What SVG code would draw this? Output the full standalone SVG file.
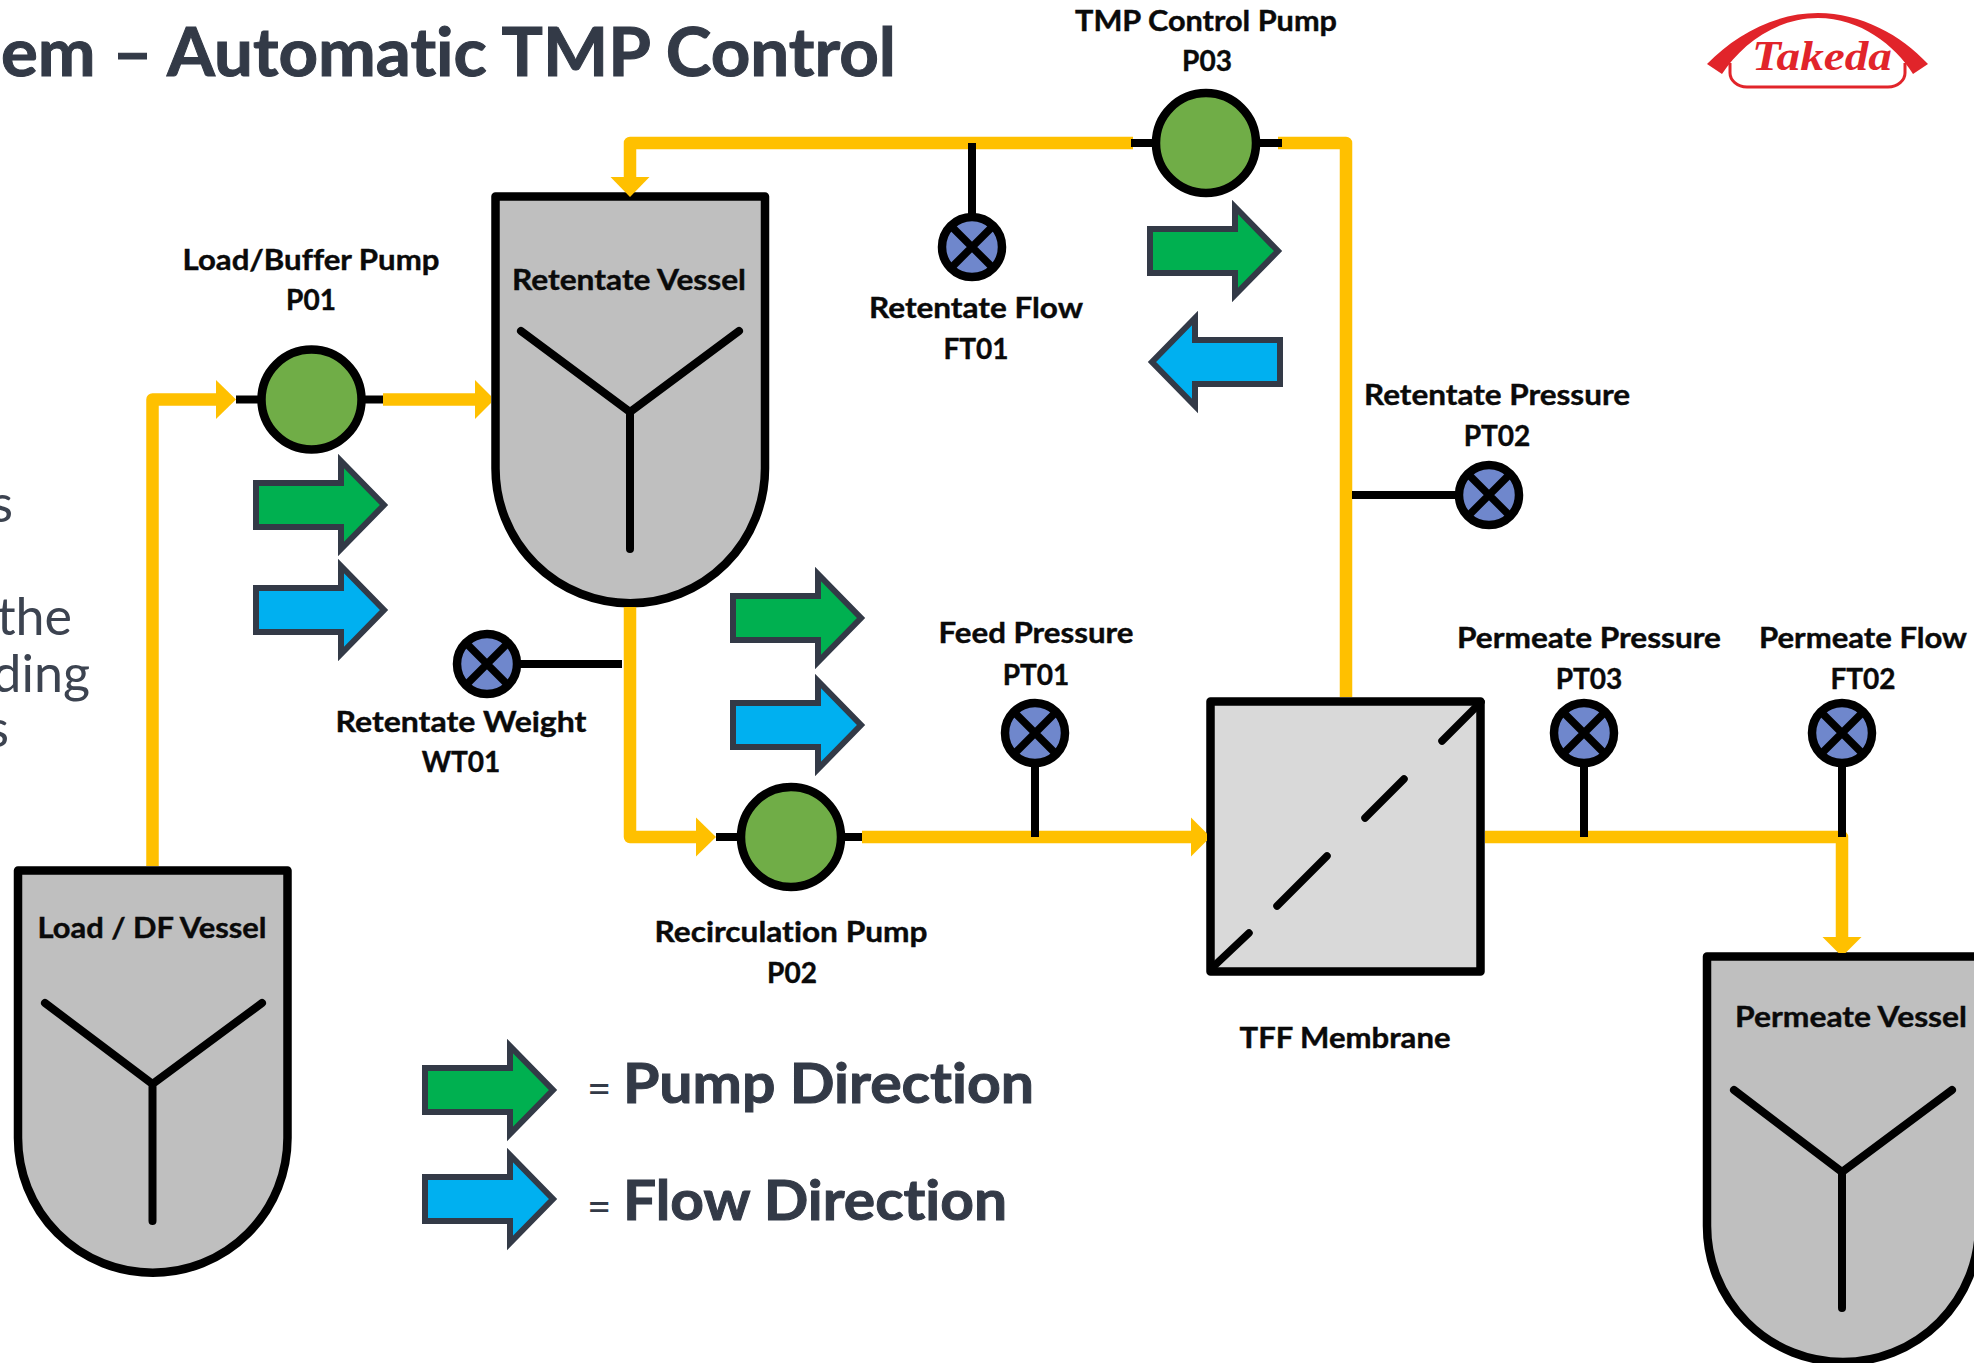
<svg xmlns="http://www.w3.org/2000/svg" width="1974" height="1363" viewBox="0 0 1974 1363">
<style>
text{font-family:"Lato","Liberation Sans",sans-serif;font-feature-settings:"liga" 0}
.l{font-size:28px;font-weight:700;fill:#0a0a0a;stroke:#0a0a0a;stroke-width:.4;text-anchor:middle}
.t{font-size:66px;font-weight:700;fill:#333a47;stroke:#333a47;stroke-width:1}
.b{font-size:52px;fill:#3c4350;font-weight:400;text-anchor:end}
.o{fill:none;stroke:#ffc000;stroke-width:12.5;stroke-linejoin:round}
.k{fill:none;stroke:#000;stroke-width:8}
.v{fill:#bfbfbf;stroke:#000;stroke-width:8.5;stroke-linejoin:round}
.y{fill:none;stroke:#000;stroke-width:8;stroke-linecap:round;stroke-linejoin:round}
.p{fill:#70ad47;stroke:#000;stroke-width:8.5}
.s{fill:#6f87cc;stroke:#000;stroke-width:8.5}
.x{stroke:#000;stroke-width:7.5}
.g{fill:#00b050;stroke:#333a47;stroke-width:6}
.c{fill:#00b0f0;stroke:#333a47;stroke-width:6}
.m{stroke:#000;stroke-width:7.5;stroke-linecap:round}
</style>
<defs>
<marker id="ah" markerUnits="userSpaceOnUse" markerWidth="21" markerHeight="40" refX="0" refY="20" orient="auto"><path d="M0 0.5L20 20L0 39.5Z" fill="#ffc000"/></marker>
<marker id="ac" markerUnits="userSpaceOnUse" markerWidth="21" markerHeight="40" refX="0" refY="20" orient="auto"><path d="M0 0.5L16 16.500V23.500L0 39.500Z" fill="#ffc000"/></marker>
<path id="ar" d="M256 483H341V461L384 505L341 549V527H256Z"/>
<g id="sn"><circle r="30" class="s"/><path class="x" d="M-21-21L21 21M-21 21L21-21"/></g>
</defs>
<g id="bg-text">
<text class="t" x="1" y="76" textLength="895" lengthAdjust="spacingAndGlyphs">em – Automatic TMP Control</text>
<text class="b" x="13" y="522">s</text>
<text class="b" x="72" y="635">the</text>
<text class="b" x="90" y="692">ding</text>
<text class="b" x="9" y="747">s</text>
</g>
<g id="load-vessel"><path class="v" d="M18 870.500H287.500V1138A134.750 134.750 0 0 1 18 1138Z"/><path class="y" d="M45 1003L152.500 1084L262 1003M152.500 1084V1221"/><text class="l" x="152" y="938" textLength="229" lengthAdjust="spacingAndGlyphs">Load / DF Vessel</text></g>
<g id="retentate-vessel"><path class="v" d="M495.500 196.500H765V468.500A134.750 134.750 0 0 1 495.500 468.500Z"/><path class="y" d="M521 331L630 412L739 331M630 412V549"/><text class="l" x="629" y="290" textLength="234" lengthAdjust="spacingAndGlyphs">Retentate Vessel</text></g>
<g id="permeate-vessel"><path class="v" d="M1707 956.500H1979V1226A136 136 0 0 1 1707 1226Z"/><path class="y" d="M1734 1090L1842 1172L1952 1090M1842 1172V1308"/><text class="l" x="1851" y="1027" textLength="232" lengthAdjust="spacingAndGlyphs">Permeate Vessel</text></g>
<g id="membrane"><rect x="1210.500" y="701.500" width="270" height="270" fill="#d9d9d9" stroke="#000" stroke-width="8.500" stroke-linejoin="round"/><path class="m" d="M1213 967L1249 933M1277 906L1327 856M1365 818L1404 779M1442 741L1481 702"/><text class="l" x="1345" y="1048" textLength="211" lengthAdjust="spacingAndGlyphs">TFF Membrane</text></g>
<g id="connectors">
<path class="o" marker-end="url(#ah)" d="M152.500 866V399.500H216"/>
<path class="o" marker-end="url(#ac)" d="M383 399.500H475"/>
<path class="o" marker-end="url(#ah)" d="M1133 143H630V177"/>
<path class="o" d="M1278 143H1346V697"/>
<path class="o" marker-end="url(#ah)" d="M630 607V837H696"/>
<path class="o" marker-end="url(#ac)" d="M862 837H1191"/>
<path class="o" marker-end="url(#ac)" d="M1485 837H1842V937"/>
<path class="k" d="M236 399.500H262M360 399.500H383M1131 143H1160M1252 143H1282M716 837H745M837 837H862M972 143V216M1352 495H1458M1035 764V837M1584 764V837M1842 764V837M518 664H622"/>
</g>
<g id="p01"><circle class="p" cx="311.500" cy="399.500" r="50"/><text class="l" x="311" y="270" textLength="257" lengthAdjust="spacingAndGlyphs">Load/Buffer Pump</text><text class="l" x="311" y="310">P01</text></g>
<g id="p02"><circle class="p" cx="791" cy="837" r="50"/><text class="l" x="791" y="942" textLength="273" lengthAdjust="spacingAndGlyphs">Recirculation Pump</text><text class="l" x="792" y="983">P02</text></g>
<g id="p03"><circle class="p" cx="1206" cy="143" r="50"/><text class="l" x="1206" y="31" textLength="262" lengthAdjust="spacingAndGlyphs">TMP Control Pump</text><text class="l" x="1207" y="71">P03</text></g>
<g id="ft01"><use href="#sn" x="972" y="247"/><text class="l" x="976" y="318" textLength="214" lengthAdjust="spacingAndGlyphs">Retentate Flow</text><text class="l" x="976" y="359">FT01</text></g>
<g id="pt02"><use href="#sn" x="1489" y="495"/><text class="l" x="1497" y="405" textLength="266" lengthAdjust="spacingAndGlyphs">Retentate Pressure</text><text class="l" x="1497" y="446">PT02</text></g>
<g id="pt01"><use href="#sn" x="1035" y="733"/><text class="l" x="1036" y="643" textLength="195" lengthAdjust="spacingAndGlyphs">Feed Pressure</text><text class="l" x="1036" y="685">PT01</text></g>
<g id="pt03"><use href="#sn" x="1584" y="733"/><text class="l" x="1589" y="648" textLength="264" lengthAdjust="spacingAndGlyphs">Permeate Pressure</text><text class="l" x="1589" y="689">PT03</text></g>
<g id="ft02"><use href="#sn" x="1842" y="733"/><text class="l" x="1863" y="648" textLength="208" lengthAdjust="spacingAndGlyphs">Permeate Flow</text><text class="l" x="1863" y="689">FT02</text></g>
<g id="wt01"><use href="#sn" x="487" y="664"/><text class="l" x="461" y="732" textLength="251" lengthAdjust="spacingAndGlyphs">Retentate Weight</text><text class="l" x="461" y="772">WT01</text></g>
<g id="direction-arrows">
<use href="#ar" class="g"/>
<use href="#ar" class="c" y="105"/>
<use href="#ar" class="g" x="477" y="113"/>
<use href="#ar" class="c" x="477" y="220"/>
<use href="#ar" class="g" x="894" y="-254"/>
<use href="#ar" class="c" transform="translate(1536 -143) scale(-1 1)"/>
<use href="#ar" class="g" x="169" y="585"/>
<use href="#ar" class="c" x="169" y="694"/>
</g>
<g id="legend">
<text x="587" y="1103" font-size="42" fill="#333a47">=</text>
<text class="t" x="623" y="1103" style="font-size:56px" textLength="411" lengthAdjust="spacingAndGlyphs">Pump Direction</text>
<text x="587" y="1221" font-size="42" fill="#333a47">=</text>
<text class="t" x="623" y="1220" style="font-size:56px" textLength="384" lengthAdjust="spacingAndGlyphs">Flow Direction</text>
</g>
<g id="takeda-logo">
<path d="M1707 64C1735 35 1775 13 1818 13C1861 13 1901 35 1928 64L1913 74C1895 45 1860 18 1818 18C1776 18 1741 45 1722 74Z" fill="#e1242a"/>
<path d="M1730 63V73C1730 80 1737 87 1747 87H1888C1898 87 1905 80 1905 73V63" fill="none" stroke="#e1242a" stroke-width="3"/>
<text x="1752" y="70" font-size="42" font-weight="700" font-style="italic" fill="#e1242a" textLength="140" lengthAdjust="spacingAndGlyphs" style="font-family:'Liberation Serif',serif">Takeda</text>
</g>
</svg>
